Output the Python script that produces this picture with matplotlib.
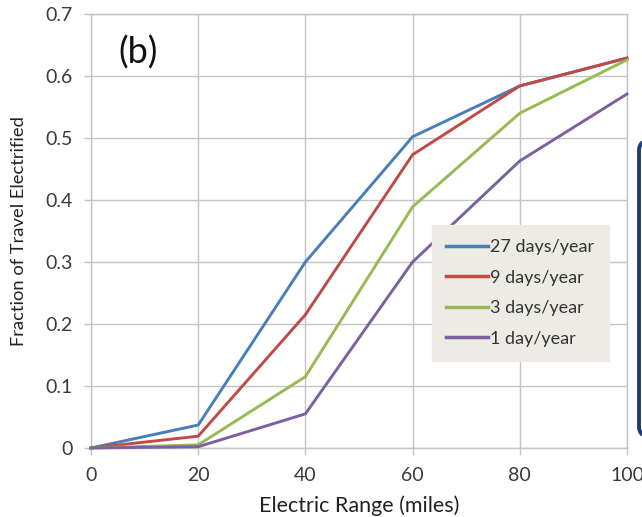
import matplotlib
matplotlib.use("Agg")
import matplotlib.pyplot as plt
from matplotlib.patches import FancyBboxPatch

# Electric range (miles) and fraction of travel electrified per tolerance level
electric_range = [0, 20, 40, 60, 80, 100]
series_labels = ["27 days/year", "9 days/year", "3 days/year", "1 day/year"]
days_27 = [0.0, 0.037, 0.300, 0.502, 0.584, 0.629]
days_9 = [0.0, 0.019, 0.215, 0.473, 0.584, 0.629]
days_3 = [0.0, 0.005, 0.115, 0.389, 0.540, 0.626]
day_1 = [0.0, 0.002, 0.055, 0.300, 0.463, 0.571]
series_values = [days_27, days_9, days_3, day_1]
series_colors = ["#4a7ebb", "#be4b48", "#98b954", "#7d60a0"]

x_ticks = [0, 20, 40, 60, 80, 100]
y_ticks = [0, 0.1, 0.2, 0.3, 0.4, 0.5, 0.6, 0.7]
y_tick_labels = ["0", "0.1", "0.2", "0.3", "0.4", "0.5", "0.6", "0.7"]

plt.rcParams["font.family"] = ["Lato", "DejaVu Sans"]

fig = plt.figure(figsize=(6.42, 5.17), dpi=100)
ax = fig.add_axes([0.1417, 0.1335, 0.8349, 0.8394])

for vals, lab, col in zip(series_values, series_labels, series_colors):
    ax.plot(electric_range, vals, color=col, lw=2.1, label=lab,
            solid_joinstyle="miter", clip_on=False, zorder=3)

ax.set_xlim(0, 100)
ax.set_ylim(0, 0.7)
ax.set_xticks(x_ticks)
ax.set_yticks(y_ticks)
ax.set_yticklabels(y_tick_labels)
ax.grid(True, color="#c4c4c4", lw=1.0)
ax.set_axisbelow(True)
for s in ax.spines.values():
    s.set_color("#c4c4c4")
    s.set_linewidth(1.0)
ax.tick_params(axis="both", colors="#c4c4c4", length=5, width=1.0,
               labelcolor="#3a3a3a", labelsize=14)
ax.tick_params(axis="x", pad=9)
ax.tick_params(axis="y", pad=8)

ax.set_xlabel("Electric Range (miles)", fontsize=15.5, color="#222222", labelpad=8)
ax.set_ylabel("Fraction of Travel Electrified", fontsize=13.2, color="#222222")
ax.yaxis.set_label_coords(-0.119, 0.5)

ax.text(0.088, 0.910, "(b)", transform=ax.transAxes, fontsize=26,
        color="#111111", ha="center", va="center")

leg = ax.legend(loc="upper left", bbox_to_anchor=(0.636, 0.514), fontsize=13,
                frameon=True, fancybox=False, handlelength=2.3, handletextpad=0.12,
                labelspacing=0.8, borderpad=0.8, borderaxespad=0)
leg.get_frame().set_facecolor("#ecebe4")
leg.get_frame().set_edgecolor("#ecebe4")
leg.get_frame().set_alpha(1.0)
for line in leg.get_lines():
    line.set_linewidth(2.5)
for t in leg.get_texts():
    t.set_color("#333333")

# partial rounded callout box at the right edge
box = FancyBboxPatch((639 / 642, 1 - 437 / 517), 0.2, (437 - 140) / 517,
                     boxstyle="round,pad=0,rounding_size=0.02",
                     transform=fig.transFigure, facecolor="white",
                     edgecolor="#1f3d6e", lw=2.8, clip_on=False)
fig.patches.append(box)

fig.savefig("out.png", dpi=100)
